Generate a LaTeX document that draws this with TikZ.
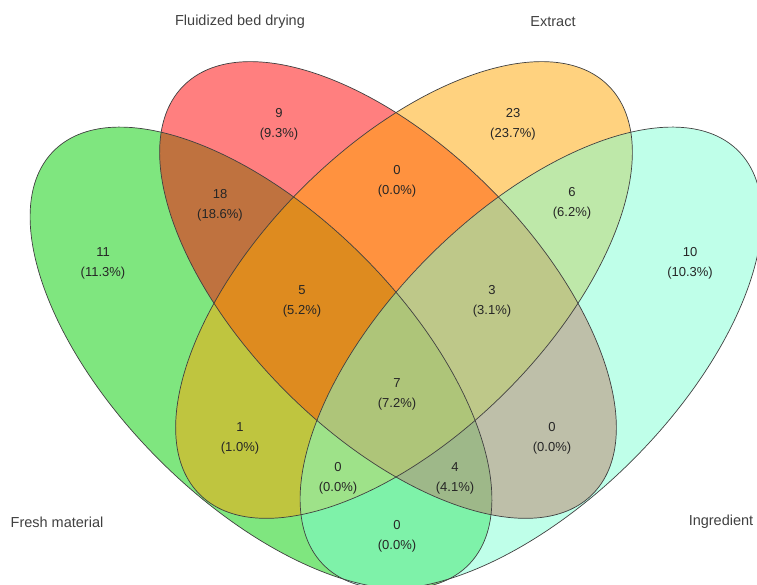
\documentclass[tikz,border=0pt]{standalone}
\usepackage{fontspec}
\setmainfont{Liberation Sans}
\usepackage{tikz}
\definecolor{freshGreen}{RGB}{0,205,0}
\definecolor{dryingRed}{RGB}{255,0,0}
\definecolor{extractOrange}{RGB}{255,165,0}
\definecolor{ingredientAqua}{RGB}{127,255,212}
\newcommand{\vennCount}[2]{#1\\(#2\%)}
\newcommand{\vennAlpha}[0]{0.5}

\begin{document}
\begin{tikzpicture}[x=1pt, y=1pt]
  \tikzset{every node/.style={align=center, font=\fontsize{13}{20}\selectfont, text=black!85},
           setfill/.style={fill opacity=\vennAlpha},
           rim/.style={draw=black!75, line width=0.7pt},
           outer/.style={x radius=293pt, y radius=144pt},
           inner/.style={x radius=289pt, y radius=144pt},
           category/.style={font=\fontsize{14.5}{17}\selectfont, text=black!75}}
  \useasboundingbox (0,0) rectangle (757,585);
  \coordinate (fresh) at (261,227);
  \coordinate (drying) at (388,295);
  \coordinate (extract) at (404,295);
  \coordinate (ingredient) at (531,227);
  \fill[setfill, freshGreen, rotate around={135:(fresh)}] (fresh) ellipse [outer];
  \fill[setfill, dryingRed, rotate around={135:(drying)}] (drying) ellipse [inner];
  \fill[setfill, extractOrange, rotate around={45:(extract)}] (extract) ellipse [inner];
  \fill[setfill, ingredientAqua, rotate around={45:(ingredient)}] (ingredient) ellipse [outer];
  \draw[rim, rotate around={135:(fresh)}] (fresh) ellipse [outer];
  \draw[rim, rotate around={135:(drying)}] (drying) ellipse [inner];
  \draw[rim, rotate around={45:(extract)}] (extract) ellipse [inner];
  \draw[rim, rotate around={45:(ingredient)}] (ingredient) ellipse [outer];
  \node (a) at (103,322) {\vennCount{11}{11.3}};
  \node (b) at (279,461) {\vennCount{9}{9.3}};
  \node (c) at (513,461) {\vennCount{23}{23.7}};
  \node (d) at (690,322) {\vennCount{10}{10.3}};
  \node (ab) at (220,380) {\vennCount{18}{18.6}};
  \node (bc) at (397,404) {\vennCount{0}{0.0}};
  \node (cd) at (572,382) {\vennCount{6}{6.2}};
  \node (abc) at (302,284) {\vennCount{5}{5.2}};
  \node (bcd) at (492,284) {\vennCount{3}{3.1}};
  \node (abcd) at (397,191) {\vennCount{7}{7.2}};
  \node (ac) at (240,147) {\vennCount{1}{1.0}};
  \node (bd) at (552,147) {\vennCount{0}{0.0}};
  \node (acd) at (338,107) {\vennCount{0}{0.0}};
  \node (abd) at (455,107) {\vennCount{4}{4.1}};
  \node (ad) at (397,49) {\vennCount{0}{0.0}};
  \node[category] (freshLabel) at (57,63) {Fresh material};
  \node[category] (dryingLabel) at (240,563) {Fluidized bed drying};
  \node[category] (extractLabel) at (553,563) {Extract};
  \node[category] (ingredientLabel) at (721,63) {Ingredient};
\end{tikzpicture}
\end{document}
